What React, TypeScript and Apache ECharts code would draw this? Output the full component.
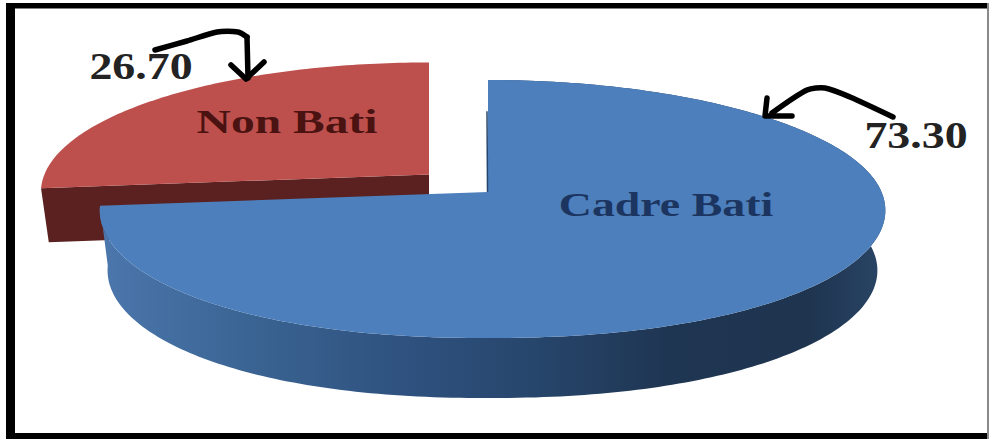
import React, { useEffect, useRef } from "react";
import * as echarts from "echarts";

const categories = ["Cadre Bati", "Non Bati"];
const shares = [73.3, 26.7];

// Perspective of the disc: u runs left to right across the disc, v from back to front.
const RIM_X = 389;
const RIM_Y = 126.8;
const DEPTH_K = -0.1318;
const SKEW_M = 0.0115;
const BASE_SHRINK = 0.98;
const FRONT_FULLNESS = 0.92;

const sliceLook = [
  { ox: 488, oy: 192, depth: 60, top: "#4c7fbc", labelX: 666, labelY: 205, labelFill: "#1c3560", labelScale: 1.39, valueX: 916, valueY: 136, layer: 3 },
  { ox: 429, oy: 174.5, depth: 54, top: "#bd504d", labelX: 287, labelY: 122, labelFill: "#4a1311", labelScale: 1.44, valueX: 141, valueY: 67, layer: 0 },
];

const SERIF = '"Liberation Serif", "Times New Roman", serif';

function project(phi: number, ox: number, oy: number) {
  const s = Math.sin(phi);
  const v = -Math.cos(phi);
  // The near half of the rim bulges slightly more than a true ellipse
  const u = v > 0 ? Math.sign(s) * Math.pow(Math.abs(s), FRONT_FULLNESS) : s;
  const w = 1 + DEPTH_K * v;
  return [ox + (RIM_X * u) / (w - SKEW_M * u), oy + (RIM_Y * v) / w];
}

function renderSlice(params: any, api: any) {
  const i = params.dataIndex;
  const total = shares.reduce((a, b) => a + b, 0);
  const before = shares.slice(0, i).reduce((a, b) => a + b, 0);
  const value = api.value(0) as number;
  const start = (before / total) * Math.PI * 2;
  const end = ((before + value) / total) * Math.PI * 2;
  const look = sliceLook[i];
  const { ox, oy, depth, layer } = look;

  const rim: number[][] = [];
  const steps = Math.ceil(((end - start) * 180) / Math.PI);
  for (let s = 0; s <= steps; s++) {
    rim.push(project(start + ((end - start) * s) / steps, ox, oy));
  }
  const lower = (p: number[]) => [ox + (p[0] - ox) * BASE_SHRINK, p[1] + depth];
  const apex = [ox, oy];

  const children: any[] = [];
  if (i === 0) {
    children.push({
      type: "polygon",
      z2: layer,
      shape: { points: [...rim, ...rim.slice().reverse().map(lower)] },
      style: {
        fill: new echarts.graphic.LinearGradient(0, 0, 1, 0, [
          { offset: 0, color: "#4c77ad" },
          { offset: 0.18, color: "#3b6594" },
          { offset: 0.38, color: "#2f5280" },
          { offset: 0.55, color: "#27466c" },
          { offset: 0.72, color: "#1f3653" },
          { offset: 0.9, color: "#1e344f" },
          { offset: 1, color: "#2a4566" },
        ]),
      },
    });
  } else {
    // Front cut face of the detached slice, running from the apex to its left rim
    children.push({
      type: "polygon",
      z2: layer,
      shape: { points: [apex, rim[0], lower(rim[0]), lower(apex)] },
      style: { fill: "#5a2120" },
    });
  }

  children.push({
    type: "polygon",
    z2: layer + 1,
    shape: { points: [apex, ...rim] },
    style: { fill: look.top },
  });

  if (i === 0) {
    // Cut face seen almost edge-on along the back of the large slice
    const t = 0.28;
    children.push({
      type: "line",
      z2: layer + 2,
      shape: {
        x1: rim[0][0] - 1,
        y1: rim[0][1] + (oy - rim[0][1]) * t,
        x2: ox - 0.5,
        y2: oy,
      },
      style: { stroke: "#27466c", lineWidth: 1.5 },
    });
  }

  children.push({
    type: "text",
    z2: 20,
    x: look.labelX,
    y: look.labelY,
    scaleX: look.labelScale,
    style: {
      text: categories[i],
      font: `bold 33px ${SERIF}`,
      fill: look.labelFill,
      textAlign: "center",
      textVerticalAlign: "middle",
    },
  });
  children.push({
    type: "text",
    z2: 20,
    x: look.valueX,
    y: look.valueY,
    scaleX: 1.24,
    style: {
      text: value.toFixed(2),
      font: `bold 37px ${SERIF}`,
      fill: "#232323",
      textAlign: "center",
      textVerticalAlign: "middle",
    },
  });

  return { type: "group", children };
}

const pen = { stroke: "#000", lineWidth: 5.5, lineJoin: "round", lineCap: "round", fill: "none" };

export default function App() {
  const ref = useRef<HTMLDivElement>(null);
  useEffect(() => {
    const chart = echarts.init(ref.current!, null, { renderer: "svg" });
    chart.setOption({
      animation: false,
      backgroundColor: "#fff",
      graphic: [
        { type: "rect", z: 1, shape: { x: 6, y: 3, width: 983, height: 5.5 }, style: { fill: "#000" } },
        { type: "rect", z: 1, shape: { x: 6, y: 433, width: 983, height: 6 }, style: { fill: "#000" } },
        { type: "rect", z: 1, shape: { x: 6, y: 3, width: 9, height: 436 }, style: { fill: "#000" } },
        { type: "rect", z: 1, shape: { x: 987, y: 3, width: 2, height: 436 }, style: { fill: "#8a8a8a" } },
        {
          type: "polyline",
          z: 100,
          shape: { points: [[155, 50], [187, 41], [217, 32], [238, 32], [247, 37]], smooth: 0.25 },
          style: pen,
        },
        {
          type: "line",
          z: 100,
          shape: { x1: 247, y1: 37, x2: 248, y2: 78 },
          style: pen,
        },
        {
          type: "polyline",
          z: 100,
          shape: { points: [[231, 65], [246, 79], [264, 62]] },
          style: pen,
        },
        {
          type: "polyline",
          z: 100,
          shape: { points: [[893, 117], [850, 97], [825, 88], [807, 90], [772, 113]], smooth: 0.25 },
          style: pen,
        },
        {
          type: "polyline",
          z: 100,
          shape: { points: [[767, 98], [765, 116], [792, 116]] },
          style: pen,
        },
      ],
      series: [
        {
          type: "custom",
          coordinateSystem: "none",
          renderItem: renderSlice,
          data: shares.map((value, i) => ({ name: categories[i], value: [value] })),
          silent: true,
        },
      ],
    });
    return () => chart.dispose();
  }, []);
  return <div ref={ref} style={{ position: "absolute", left: 0, top: 0, width: 989, height: 441 }} />;
}
